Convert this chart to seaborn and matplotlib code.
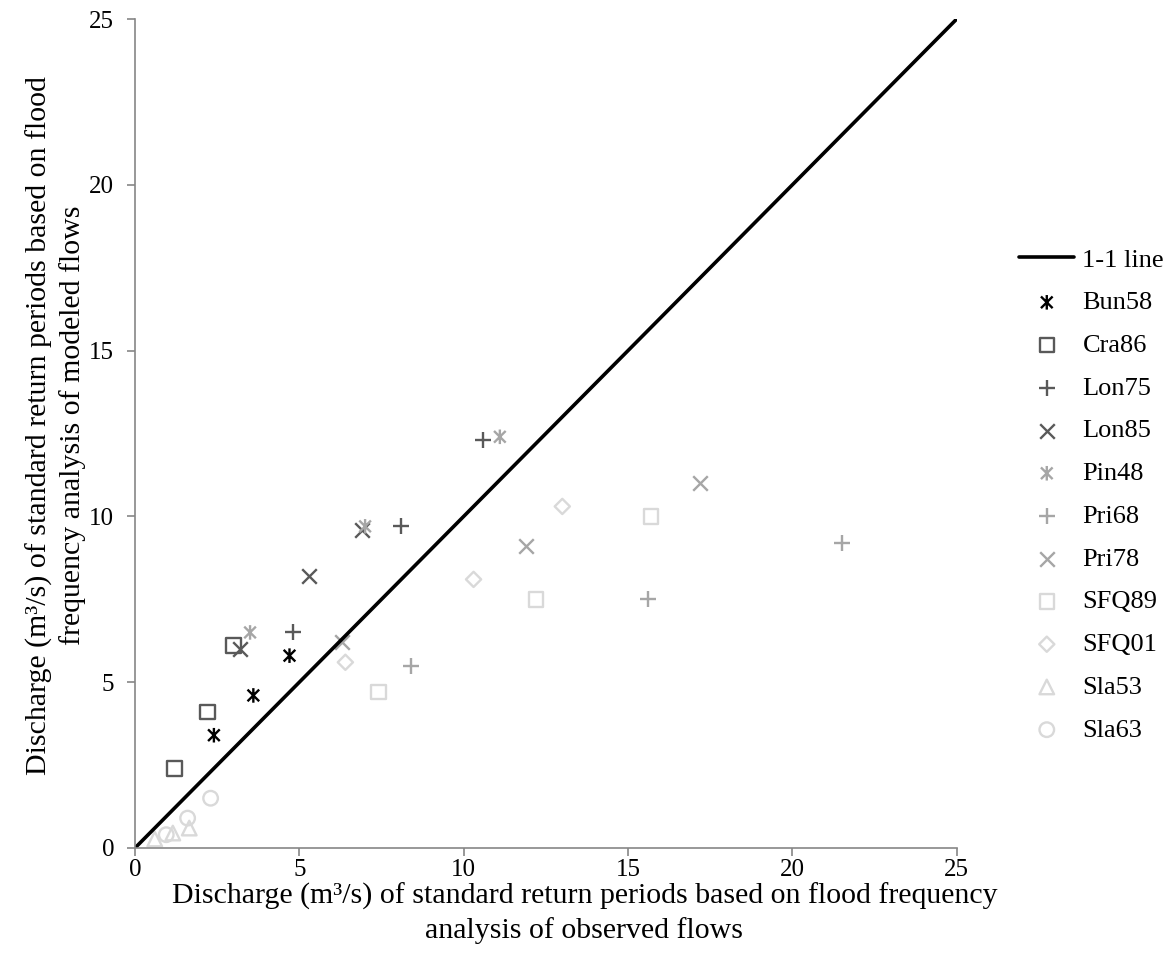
import matplotlib
matplotlib.use("Agg")
import matplotlib.pyplot as plt
import seaborn as sns
import numpy as np
from matplotlib.path import Path

# ---- data ----
series_names = ["Bun58", "Cra86", "Lon75", "Lon85", "Pin48", "Pri68",
                "Pri78", "SFQ89", "SFQ01", "Sla53", "Sla63"]
bun58_x = [2.4, 3.6, 4.7]
bun58_y = [3.4, 4.6, 5.8]
cra86_x = [1.2, 2.2, 3.0]
cra86_y = [2.4, 4.1, 6.1]
lon75_x = [4.8, 8.1, 10.6]
lon75_y = [6.5, 9.7, 12.3]
lon85_x = [3.2, 5.3, 6.9]
lon85_y = [6.0, 8.2, 9.6]
pin48_x = [3.5, 7.0, 11.1]
pin48_y = [6.5, 9.7, 12.4]
pri68_x = [8.4, 15.6, 21.5]
pri68_y = [5.5, 7.5, 9.2]
pri78_x = [6.3, 11.9, 17.2]
pri78_y = [6.2, 9.1, 11.0]
sfq89_x = [7.4, 12.2, 15.7]
sfq89_y = [4.7, 7.5, 10.0]
sfq01_x = [6.4, 10.3, 13.0]
sfq01_y = [5.6, 8.1, 10.3]
sla53_x = [0.6, 1.15, 1.65]
sla53_y = [0.27, 0.45, 0.6]
sla63_x = [0.95, 1.6, 2.3]
sla63_y = [0.4, 0.9, 1.5]
one_line = [0, 25]
ticks = [0, 5, 10, 15, 20, 25]

xlabel = "Discharge (m³/s) of standard return periods based on flood frequency\nanalysis of observed flows"
ylabel = "Discharge (m³/s) of standard return periods based on flood\nfrequency analysis of modeled flows"

# ---- style ----
sns.set_theme(style="white")
plt.rcParams["font.family"] = ["Liberation Serif", "DejaVu Serif"]
plt.rcParams["text.color"] = "black"
plt.rcParams["axes.labelcolor"] = "black"
plt.rcParams["xtick.color"] = "black"
plt.rcParams["ytick.color"] = "black"

asterisk = Path([(-1, -1), (1, 1), (-1, 1), (1, -1), (0, -1.25), (0, 1.25)],
                [Path.MOVETO, Path.LINETO, Path.MOVETO, Path.LINETO,
                 Path.MOVETO, Path.LINETO])

dark = "#595959"
mid = "#a6a6a6"
light = "#d9d9d9"

specs = [
    (bun58_x, bun58_y, asterisk, "#000000", 110),
    (cra86_x, cra86_y, "s", dark, 110),
    (lon75_x, lon75_y, "+", dark, 130),
    (lon85_x, lon85_y, "x", dark, 110),
    (pin48_x, pin48_y, asterisk, mid, 110),
    (pri68_x, pri68_y, "+", mid, 130),
    (pri78_x, pri78_y, "x", mid, 110),
    (sfq89_x, sfq89_y, "s", light, 110),
    (sfq01_x, sfq01_y, "D", light, 60),
    (sla53_x, sla53_y, "^", light, 110),
    (sla63_x, sla63_y, "o", light, 110),
]

fig = plt.figure(figsize=(11.68, 9.75), dpi=100)
ax = fig.add_axes([0.1156, 0.1303, 0.7035, 0.8502])

sns.lineplot(x=one_line, y=one_line, color="black", linewidth=2.6,
             label="1-1 line", ax=ax)

for name, (xs, ys, mk, col, s) in zip(series_names, specs):
    filled = mk in ("s", "D", "^", "o") or isinstance(mk, Path)
    if filled:
        sns.scatterplot(x=xs, y=ys, marker=mk, s=s, facecolor="none",
                        edgecolor=col, linewidth=1.7, label=name, ax=ax)
    else:
        sns.scatterplot(x=xs, y=ys, marker=mk, s=s, color=col,
                        linewidth=1.7, label=name, ax=ax)

ax.set_xlim(0, 25)
ax.set_ylim(0, 25)
ax.set_xticks(ticks)
ax.set_yticks(ticks)
ax.tick_params(axis="both", labelsize=18, length=6, width=1.2,
               color="#868686", labelcolor="black", direction="out")
ax.tick_params(axis="x", bottom=True, pad=2)
ax.tick_params(axis="y", left=True, pad=9)
for side in ["top", "right"]:
    ax.spines[side].set_visible(False)
for side in ["left", "bottom"]:
    ax.spines[side].set_color("#868686")
    ax.spines[side].set_linewidth(1.2)

ax.set_xlabel(xlabel, fontsize=21.5, labelpad=1, color="black", linespacing=1.35)
ax.xaxis.label.set_x(0.547)
ax.set_ylabel(ylabel, fontsize=21.5, labelpad=2, color="black", linespacing=1.3)
ax.yaxis.label.set_y(0.51)

leg = ax.legend(loc="center left", bbox_to_anchor=(1.047, 0.426), frameon=False,
                fontsize=19, handlelength=2.1, handletextpad=0.3,
                labelspacing=0.73)
for t in leg.get_texts():
    t.set_color("black")

fig.savefig("out.png", dpi=100)
